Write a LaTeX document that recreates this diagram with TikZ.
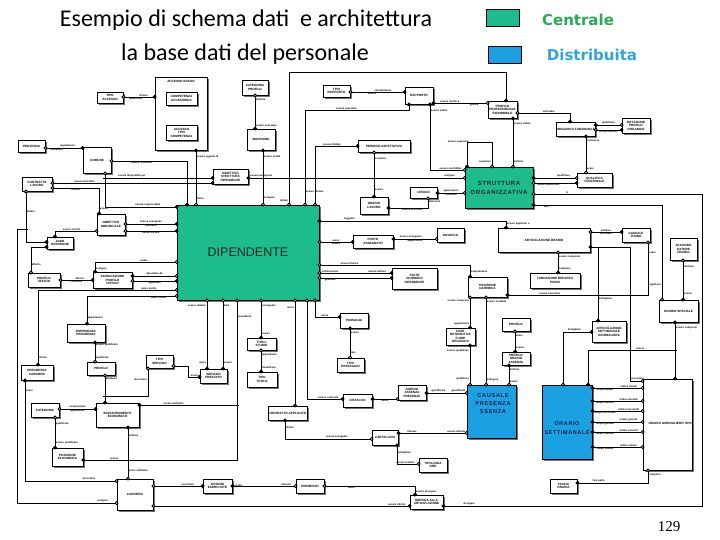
\documentclass[tikz,border=0pt]{standalone}
\usepackage{fontspec}
\setmainfont{Carlito}
\setsansfont{Liberation Sans}
\newfontfamily\verd{DejaVu Sans}
\newfontfamily\tms{Liberation Serif}
\newfontfamily\spaced[LetterSpace=12]{Liberation Sans}
\usetikzlibrary{arrows.meta,shadows}
\definecolor{cgreen}{RGB}{29,188,140}
\definecolor{cblue}{RGB}{27,161,226}
\definecolor{tgreen}{RGB}{40,170,85}
\definecolor{tblue}{RGB}{45,165,225}
\definecolor{navy}{RGB}{20,30,80}
\newcommand{\bfnt}{\sffamily\bfseries\fontsize{3.1}{3.5}\selectfont}
\newcommand{\lfnt}{\sffamily\bfseries\fontsize{2.6}{2.8}\selectfont}
\newcommand{\Ebox}[7][]{\node[ebox,minimum width={(#5-#3)*1pt},minimum height={(#6-#4)*1pt},#1] (#2) at ({(#3+#5)/2},{(#4+#6)/2}) {#7};}
\tikzset{
  Fi/.tip={Circle[length=3.8pt]},
  Oi/.tip={Circle[fill=white,length=3.8pt]},
  ebox/.style={draw, fill=white, line width=0.85pt, inner sep=0.3pt, align=center, font=\bfnt,
    drop shadow={shadow xshift=1.6pt, shadow yshift=-1.6pt, fill=black!55, opacity=1}},
  con/.style={draw, line width=0.85pt, shorten >=-1.9pt, shorten <=-1.9pt},
  lab/.style={font=\lfnt, inner sep=0.5pt},
}
\begin{document}
\begin{tikzpicture}[x=1pt,y=-1pt]
\useasboundingbox (0,0) rectangle (720,540);
% header
\node[font=\fontsize{24}{28}\selectfont] (t1) at (246,20) {Esempio di schema dati\ \ e architettura};
\node[font=\fontsize{24}{28}\selectfont] (t2) at (245,54) {la base dati del personale};
\node[draw,fill=cgreen,minimum width=33pt,minimum height=17pt,line width=0.8pt] (lg) at (502.5,17.5) {};
\node[font=\verd\bfseries\fontsize{15}{17}\selectfont, text=tgreen] (lgt) at (578,19.5) {Centrale};
\node[draw,fill=cblue,minimum width=33pt,minimum height=17pt,line width=0.8pt] (lb) at (504.5,54.5) {};
\node[font=\verd\bfseries\fontsize{15}{17}\selectfont, text=tblue] (lbt) at (592,55) {Distribuita};

% entities
\Ebox{tipoacc}{97}{92}{123}{103}{TIPO\\ACCESSO}
\Ebox{accbig}{155}{77}{207}{150}{}
\node[font=\bfnt] (accl) at (181,81) {ACCESSO SPAZIO};
\Ebox{compacc}{166}{92}{197}{105}{COMPETENZA\\ACCESSORIA}
\Ebox{acctipo}{166}{125}{197}{140}{ACCESSO\\TIPO\\COMPETENZA}
\Ebox{catprof}{242}{80}{268}{95}{CATEGORIA\\PROFILO}
\Ebox{mansione}{247}{129}{275}{150}{MANSIONE}
\Ebox{tiporap}{323}{85}{350}{97}{TIPO\\RAPPORTO}
\Ebox{rapporto}{405}{87}{433}{104}{RAPPORTO}
\Ebox{profprof}{488}{101}{517}{118}{PROFILO\\PROFESSIONALE\\DISPONIBILE}
\Ebox{organico}{557}{122}{595}{136}{ORGANICO FUNZIONALE}
\Ebox{dotazione}{622}{118}{650}{133}{DOTAZIONE\\PROFILO\\ORGANICO}
\Ebox{qualfun}{577}{173}{612}{187}{QUALIFICA\\FUNZIONALE}
\Ebox{provincia}{18}{140}{45}{152}{PROVINCIA}
\Ebox{comune}{83}{147}{111}{173}{COMUNE}
\Ebox{contratto}{22}{177}{52}{191}{CONTRATTO\\LAVORO}
\Ebox{obstr}{213}{169}{248}{184}{OBIETTIVO\\STRUTTURA\\DIPENDENTE}
\Ebox{periodo}{358}{140}{410}{152}{PERIODO ASPETTATIVA}
\Ebox{orariolav}{360}{197}{388}{214}{ORARIO\\LAVORO}
\Ebox{ufficio}{410}{187}{437}{198}{UFFICIO}
\Ebox[fill=cgreen,font=\spaced\bfseries\fontsize{6}{9}\selectfont,text=black!85]{struttura}{465}{167}{533}{208}{STRUTTURA\\ORGANIZZATIVA}
\Ebox{obind}{97}{214}{125}{235}{OBIETTIVO\\INDIVIDUALE}
\Ebox{albo}{47}{237}{73}{249}{ALBO\\ISCRIZIONE}
\Ebox[fill=cgreen,font=\sffamily\fontsize{12.5}{14}\selectfont,text=black!85]{dip}{177}{205}{319}{300}{DIPENDENTE}
\Ebox{profuff}{28}{273}{60}{287}{PROFILO\\UFFICIO}
\Ebox{assoc}{93}{272}{132}{288}{ASSOCIAZIONE\\PROFILO\\UFFICIO}
\Ebox{posto}{353}{235}{393}{248}{POSTO\\ASSEGNATO}
\Ebox{incarico}{437}{228}{464}{242}{INCARICO}
\Ebox{artorario}{498}{228}{590}{252}{ARTICOLAZIONE ORARIO}
\Ebox{caustur}{622}{228}{650}{242}{CAUSALE\\TURNO}
\Ebox{accordo}{670}{238}{697}{260}{ACCORDO\\DATORE\\ORARIO}
\Ebox{statogiu}{392}{268}{437}{289}{STATO\\GIURIDICO\\DIPENDENTE}
\Ebox{posgiu}{468}{277}{507}{297}{POSIZIONE\\GIURIDICA}
\Ebox{turnaz}{530}{273}{580}{288}{TURNAZIONE REPARTO\\PIANO}
\Ebox{orspec}{659}{300}{698}{322}{ORARIO SPECIALE}
\Ebox{artset}{592}{321}{626}{342}{ARTICOLAZIONE\\SETTIMANALE\\GIORNALIERA}
\Ebox{espreg}{67}{324}{105}{342}{ESPERIENZA\\PREGRESSA}
\Ebox{passaggi}{340}{313}{368}{328}{PASSAGGI}
\Ebox{titoli}{247}{338}{276}{350}{TITOLI\\STUDIO}
\Ebox{fase}{446}{328}{475}{345}{FASE\\RETRIBUTIVA\\FUORI\\ORGANICO}
\Ebox{profilo2}{502}{318}{530}{331}{PROFILO}
\Ebox{tiposerv}{146}{355}{173}{368}{TIPO\\SERVIZIO}
\Ebox{tipopass}{337}{358}{364}{372}{TIPO\\PASSAGGIO}
\Ebox{profassenza}{502}{352}{530}{365}{PROFILO\\ORARIO\\ASSENZA}
\Ebox{pregcarr}{21}{365}{53}{380}{PREGRESSA\\CARRIERA}
\Ebox{profilo}{87}{362}{115}{375}{PROFILO}
\Ebox{servprest}{200}{369}{227}{383}{SERVIZIO\\PRESTATO}
\Ebox{tipotit}{247}{372}{277}{387}{TIPO\\TITOLO}
\Ebox[fill=cblue]{causale}{467}{385}{516}{438}{}
\node[font=\spaced\bfseries\fontsize{5.6}{8}\selectfont,text=navy,align=center] (caust) at (493,404) {CAUSALE\\PRESENZA\\SSENZA};
\Ebox[fill=cblue]{orset}{542}{385}{592}{459}{}
\node[font=\spaced\bfseries\fontsize{5.4}{9}\selectfont,text=navy,align=center] (orsett) at (567,428) {ORARIO\\SETTIMANALE};
\Ebox[drop shadow={opacity=0}]{orgiorn}{643}{379}{692}{470}{}
\node[font=\bfnt,anchor=west] (orgt) at (645,423) {ORARIO GIORNALIERO TIPO};
\Ebox{giorno}{398}{385}{426}{400}{GIORNO\\ASSENZA\\PRESENZA}
\Ebox{distacco}{343}{394}{372}{407}{DISTACCO}
\Ebox{categoria}{31}{403}{59}{417}{CATEGORIA}
\Ebox{inquadr}{96}{403}{139}{427}{INQUADRAMENTO\\ECONOMICO}
\Ebox{contrapp}{268}{406}{307}{420}{CONTRATTO APPLICATO}
\Ebox{cartellino}{372}{430}{398}{445}{CARTELLINO}
\Ebox{posecon}{52}{448}{83}{466}{POSIZIONE\\ECONOMICA}
\Ebox{tipologia}{419}{458}{447}{472}{TIPOLOGIA\\ORE}
\Ebox{carriera}{117}{479}{153}{510}{CARRIERA}
\Ebox{opzioni}{203}{479}{232}{493}{OPZIONI\\ESERCITATE}
\Ebox{permesso}{296}{479}{324}{493}{PERMESSO}
\Ebox{deroga}{410}{495}{443}{509}{DEROGA ALLA\\ARTICOLAZIONE}
\Ebox{fascia}{550}{479}{577}{493}{FASCIA\\ORARIA}
\node[font=\tms\fontsize{15}{17}\selectfont] (pg) at (669,527) {129};

% junctions
\coordinate (j1) at (105,178);
\coordinate (j2) at (26,229);
\coordinate (j3) at (105,396);
\coordinate (j4) at (237,405);
\coordinate (j5) at (598,247);
\coordinate (j6) at (675,350);

% connectors
\draw[con,Oi-Fi] (tipoacc.east|-0,97) -- node[lab,above,pos=0.65]{dotato} node[lab,below,pos=0.4]{qualificare} (accbig.west|-0,97);
\draw[con,Oi-Fi] (provincia.east|-0,148) -- node[lab,above,pos=0.6]{appartenere} node[lab,below,pos=0.3]{contenere} (comune.west|-0,148);
\draw[con,Oi-Fi] (comune.east|-0,161) -| node[lab,below,pos=0.2]{essere residenza} (dip.north-|187,0);
\draw[con,Oi-Fi] (comune.south-|105,0) |- node[lab,above,pos=0.8]{essere responsabile} (dip.west|-0,207);
\draw[con,-Fi] (j1) -- node[lab,above,pos=0.25]{essere disponibile per} (obstr.west|-0,178);
\draw[con,Oi-Fi] (contratto.east|-0,183) -- node[lab,above,pos=0.2]{essere vincolato} (obstr.west|-0,183);
\draw[con,Oi-Fi] (contratto.east|-0,188) -| node[lab,below,pos=0.25]{riferire} node[lab,right,pos=0.9]{essere} (obind.north-|99,0);
\draw[con,Oi-Fi] (contratto.south-|26,0) |- node[lab,right,pos=0.2]{dotare} (albo.west|-0,242);
\draw[con,-Oi] (j2) -- (17,229) |- node[lab,above,pos=0.93]{svolgere} (carriera.west|-0,503);
\draw[con,Fi-Oi] (accbig.south-|196,0) -- node[lab,right,pos=0.12]{essere oggetto di} node[lab,right,pos=0.88]{fruire} (dip.north-|196,0);
\draw[con,Oi-Fi] (catprof.south) -- node[lab,right,pos=0.12]{definire} node[lab,right,pos=0.9]{essere associata} (mansione.north-|255,0);
\draw[con,Fi-Oi] (mansione.south-|263,0) -- node[lab,right,pos=0.12]{essere svolta} node[lab,right,pos=0.88]{svolgere} (dip.north-|263,0);
\draw[con,Fi-Oi] (obstr.east|-0,178) -- node[lab,above,pos=0.06]{essere assegnato} node[lab,above,pos=0.93]{svolgere} (struttura.west|-0,178);
\draw[con,Oi-Fi] (tiporap.east|-0,92) -- node[lab,above,pos=0.6]{caratterizzare} node[lab,below,pos=0.4]{essere} (rapporto.west|-0,92);
\draw[con,Fi-Oi] (rapporto.south-|409,0) -- (409,110) -| node[lab,above,pos=0.3]{essere associato} node[lab,right,pos=0.93]{essere titolare} (dip.north-|305,0);
\draw[con,Oi-Fi] (dip.north-|289,0) -- node[lab,left,pos=0.03]{dotato} (289,72) -| (profprof.north-|506,0);
\draw[con,Fi-Oi] (rapporto.south-|430,0) |- node[lab,right,pos=0.05]{essere valido} node[lab,above,pos=0.8]{essere controllato} (struttura.west|-0,170);
\draw[con,Fi-Oi] (rapporto.east|-0,103) -- node[lab,above,pos=0.3]{essere rivolto a} node[lab,below,pos=0.75]{gestire} (profprof.west|-0,103);
\draw[con,Oi-Fi] (profprof.east|-0,113) -| node[lab,above,pos=0.3]{articolare} (organico.north-|570,0);
\draw[con,Fi-Oi] (organico.east|-0,125) -- node[lab,above,pos=0.5]{qualificare} (dotazione.west|-0,125);
\draw[con,Oi-Fi] (organico.east|-0,130) -- node[lab,below,pos=0.5]{essere definito} (dotazione.west|-0,130);
\draw[con,Fi-Oi] (organico.south-|586,0) -- node[lab,right,pos=0.12]{contenere} node[lab,right,pos=0.9]{avere} (qualfun.north-|586,0);
\draw[con,Fi-Oi] (struttura.east|-0,178) -- node[lab,above,pos=0.7]{qualificare} (qualfun.west|-0,178);
\draw[con,Oi-Fi] (struttura.east|-0,183) -- node[lab,below,pos=0.35]{essere qualificato} (qualfun.west|-0,183);
\draw[con,Fi-Oi] (struttura.north-|467,0) -- (467,142) -| node[lab,left,pos=0.05]{essere superiore} node[lab,left,pos=0.9]{superiore} (struttura.north-|492,0);
\draw[con,Fi-Oi] (profprof.south-|513,0) -- node[lab,right,pos=0.1]{essere valido} node[lab,right,pos=0.9]{definire} (struttura.north-|513,0);
\draw[con,Oi-Fi] (dip.north-|315,0) |- node[lab,above,pos=0.7]{essere titolare} (periodo.west|-0,146);
\draw[con,Oi-Fi] (periodo.south-|374,0) -- node[lab,right,pos=0.15]{correlare} node[lab,right,pos=0.85]{essere} (orariolav.north-|374,0);
\draw[con,Fi-Oi] (orariolav.east|-0,208) -| node[lab,below,pos=0.3]{essere dislocato} node[lab,right,pos=0.85]{dislocare} (ufficio.south-|428,0);
\draw[con,Fi-Oi] (ufficio.east|-0,193) -- node[lab,above,pos=0.5]{appartenere} node[lab,below,pos=0.5]{costituire} (struttura.west|-0,193);
\draw[con,Fi-Fi] (dip.east|-0,221) -| node[lab,above,pos=0.08]{soggetto} node[lab,right,pos=0.7]{essere applicato a} (artorario.north-|506,0);
\draw[con,Oi-Fi] (dip.east|-0,242) -- node[lab,above,pos=0.5]{avere} node[lab,below,pos=0.5]{essere} (posto.west|-0,242);
\draw[con,Fi-Oi] (posto.east|-0,239) -- node[lab,above,pos=0.4]{essere assegnato} node[lab,below,pos=0.5]{appartenere} (incarico.west|-0,239);
\draw[con,Oi-Fi] (dip.east|-0,265) -| node[lab,above,pos=0.1]{essere titolare} node[lab,right,pos=0.8]{comprendere} (posgiu.north-|470,0);
\draw[con,Oi-Fi] (dip.east|-0,273) -- node[lab,above,pos=0.15]{sottoscrivere} node[lab,above,pos=0.8]{essere titolare} (statogiu.west|-0,273);
\draw[con,Oi-Fi] (dip.east|-0,278) -- node[lab,below,pos=0.15]{generare} (statogiu.west|-0,278);
\draw[con,Oi-Fi] (artorario.east|-0,232) -- node[lab,above,pos=0.5]{adottare} node[lab,below,pos=0.5]{articolare} (caustur.west|-0,232);
\draw[con,Oi-Fi] (artorario.south-|558,0) -- node[lab,right,pos=0.2]{essere composta} node[lab,right,pos=0.85]{comporre} (turnaz.north-|558,0);
\draw[con,Fi-Fi] (artorario.east|-0,247) -| node[lab,right,pos=0.85]{dettagliare} (artset.north-|598,0);
\draw[con,-Oi] (j5) -- (630,247) |- node[lab,above,pos=0.8]{prevedere} (orgiorn.west|-0,381);
\draw[con,Fi-Oi] (posgiu.east|-0,295) -| node[lab,above,pos=0.15]{essere associata} node[lab,right,pos=0.9]{usare} (caustur.south-|648,0);
\draw[con,Oi-Fi] (struttura.east|-0,194) -- node[lab,above,pos=0.2]{ir} (702,194) |- node[lab,above,pos=0.95]{derogare} (deroga.east|-0,506);
\draw[con,Fi-Oi] (struttura.east|-0,205) -| node[lab,below,pos=0.05]{tipo} node[lab,left,pos=0.92]{applicare} (orspec.north-|662,0);
\draw[con,Oi-Fi] (accordo.south-|683,0) -- node[lab,right,pos=0.15]{derivare} node[lab,right,pos=0.85]{essere} (orspec.north-|683,0);
\draw[con,Fi-Fi] (orspec.south-|675,0) -- node[lab,right,pos=0.1]{essere composto} (orgiorn.north-|675,0);
\draw[con,-Fi] (j6) -| node[lab,above,pos=0.2]{essere} (orset.north-|588,0);
\draw[con,Fi-Oi] (artset.west|-0,332) -| node[lab,above,pos=0.3]{dettagliare} (orset.north-|563,0);
\foreach \yy/\la/\lb in {388/ordine lunedì/tempo lunedì, 401/ordine martedì/tempo martedì, 411/ordine mercoledì/tempo mercoledì, 422/ordine giovedì/tempo giovedì, 432/ordine venerdì/tempo venerdì, 447/ordine sabato/tempo sabato}
  \draw[con,Fi-Oi] (orset.east|-0,\yy) -- node[lab,above,pos=0.72]{\la} node[lab,below,pos=0.25]{\lb} (orgiorn.west|-0,\yy);
\draw[con,Oi-Fi] (orgiorn.south-|648,0) |- node[lab,right,pos=0.2]{comporre} node[lab,above,pos=0.85]{fare parte} (fascia.east|-0,483);
\draw[con,Oi-Fi] (dip.south-|207,0) -- node[lab,left,pos=0.07]{essere relativo} node[lab,left,pos=0.92]{avere} (servprest.north-|207,0);
\draw[con,Oi-Fi] (dip.south-|223,0) -- node[lab,right,pos=0.07]{dare} node[lab,right,pos=0.92]{essere} (servprest.north-|223,0);
\draw[con,Oi-Fi] (dip.south-|237,0) |- node[lab,right,pos=0.05]{inquadrare} node[lab,above,pos=0.9]{essere} (posecon.east|-0,460);
\draw[con,Oi-Fi] (dip.south-|261,0) -- node[lab,right,pos=0.15]{conseguire} node[lab,right,pos=0.9]{essere} (titoli.north-|261,0);
\draw[con,Oi-Fi] (titoli.south-|261,0) -- node[lab,right,pos=0.2]{appartenere} node[lab,right,pos=0.8]{classificare} (tipotit.north-|261,0);
\draw[con,Oi-Fi] (dip.south-|295,0) -- node[lab,left,pos=0.07]{avere} (contrapp.north-|295,0);
\draw[con,Oi-Fi] (dip.south-|307,0) |- node[lab,above,pos=0.8]{essere collocato} (distacco.west|-0,399);
\draw[con,Oi-Fi] (dip.south-|315,0) |- node[lab,above,pos=0.7]{avere} (passaggi.west|-0,317);
\draw[con,Fi-Oi] (passaggi.south-|350,0) -- node[lab,right,pos=0.15]{essere} node[lab,right,pos=0.85]{tipo} (tipopass.north-|350,0);
\draw[con,Oi-Fi] (dip.west|-0,262) -| node[lab,above,pos=0.2]{svolto} node[lab,right,pos=0.85]{svolgere} (assoc.north-|95,0);
\draw[con,Fi-Oi] (assoc.east|-0,276) -- node[lab,above,pos=0.5]{dipendere da} (dip.west|-0,276);
\draw[con,Oi-Fi] (assoc.east|-0,281) -- node[lab,below,pos=0.5]{riguardare} (dip.west|-0,281);
\draw[con,Oi-Fi] (profuff.east|-0,280) -- node[lab,above,pos=0.6]{afferire} node[lab,below,pos=0.5]{costituire} (assoc.west|-0,280);
\draw[con,Fi-Oi] (albo.west|-0,247) -| node[lab,right,pos=0.85]{afferire} (profuff.north-|31,0);
\draw[con,Oi-Fi] (dip.west|-0,290) -| node[lab,above,pos=0.1]{avere svolto} node[lab,right,pos=0.95]{riferire} (pregcarr.north-|38,0);
\draw[con,Oi-Fi] (dip.west|-0,296) -| node[lab,below,pos=0.1]{avere svolto} node[lab,right,pos=0.9]{appartenere} (espreg.north-|87,0);
\draw[con,Fi-Oi] (espreg.south-|95,0) -- node[lab,right,pos=0.15]{essere qualificato} node[lab,right,pos=0.8]{qualificare} (profilo.north-|95,0);
\draw[con,Oi-Fi] (profilo.south-|105,0) -- node[lab,right,pos=0.12]{attribuire} (inquadr.north-|105,0);
\draw[con,Oi-] (tiposerv.south-|148,0) |- node[lab,left,pos=0.2]{descrivere} (j3);
\draw[con,Oi-Fi] (tiposerv.east|-0,366) -- (188,366) |- node[lab,above,pos=0.8]{essere} (servprest.west|-0,377);
\draw[con,Fi-Oi] (pregcarr.south-|25,0) |- node[lab,right,pos=0.05]{avere} node[lab,above,pos=0.85]{precedere} (carriera.west|-0,481);
\draw[con,Oi-Fi] (categoria.east|-0,409) -- node[lab,above,pos=0.5]{comprendere} node[lab,below,pos=0.5]{appartenere} (inquadr.west|-0,409);
\draw[con,Oi-Fi] (categoria.south-|55,0) -- node[lab,right,pos=0.2]{qualificare} node[lab,right,pos=0.85]{essere qualificato} (posecon.north-|55,0);
\draw[con,Fi-Oi] (inquadr.south-|128,0) -- node[lab,right,pos=0.15]{definire} node[lab,right,pos=0.85]{avere attribuito} (carriera.north-|128,0);
\draw[con,Fi-] (inquadr.east|-0,405) -- node[lab,above,pos=0.35]{essere attribuito} (j4);
\draw[con,Oi-Fi] (carriera.east|-0,486) -- node[lab,above,pos=0.7]{esercitare} (opzioni.west|-0,486);
\draw[con,Fi-Oi] (opzioni.east|-0,486) -- node[lab,right,pos=0.02]{scelta} node[lab,above,pos=0.85]{ricevuto} (permesso.west|-0,486);
\draw[con,Oi-Fi] (permesso.east|-0,486) -| node[lab,below,pos=0.15]{avere} node[lab,right,pos=0.85]{essere derogata} (deroga.north-|415,0);
\draw[con,Oi-Fi] (carriera.east|-0,506) -- node[lab,above,pos=0.95]{essere riferito} (deroga.west|-0,506);
\draw[con,Fi-Oi] (contrapp.south-|285,0) |- node[lab,right,pos=0.2]{riferire} node[lab,above,pos=0.8]{essere assegnato} (cartellino.west|-0,439);
\draw[con,Fi-Oi] (cartellino.east|-0,433) -- node[lab,above,pos=0.2]{rilevare} node[lab,above,pos=0.85]{essere rilevato} (causale.west|-0,433);
\draw[con,Fi-Oi] (cartellino.south-|397,0) |- node[lab,right,pos=0.2]{dettagliare} node[lab,above,pos=0.7]{essere relativo} (tipologia.west|-0,464);
\draw[con,Fi-Oi] (distacco.east|-0,399) -- node[lab,below,pos=0.5]{avere} (giorno.west|-0,399);
\draw[con,Fi-Oi] (giorno.east|-0,393) -- node[lab,above,pos=0.3]{giustificare} node[lab,above,pos=0.8]{giustificato} (causale.west|-0,393);
\draw[con,Oi-Fi] (posgiu.south-|470,0) -- node[lab,left,pos=0.12]{essere compreso} node[lab,left,pos=0.88]{appartenere} (fase.north-|470,0);
\draw[con,Fi-Oi] (fase.south-|470,0) -- node[lab,left,pos=0.15]{essere qualificato} node[lab,left,pos=0.85]{qualificare} (causale.north-|470,0);
\draw[con,Oi-Oi] (posgiu.south-|486,0) -- node[lab,right,pos=0.05]{essere variabile} node[lab,right,pos=0.95]{collegare} (causale.north-|486,0);
\draw[con,Oi-Fi] (profilo2.south-|515,0) -- node[lab,right,pos=0.2]{avere} node[lab,right,pos=0.8]{essere} (profassenza.north-|515,0);
\draw[con,Fi-Oi] (profassenza.south-|509,0) -- node[lab,right,pos=0.2]{definire} node[lab,right,pos=0.85]{valere} (causale.north-|509,0);
\draw[con,Oi-Fi] (obind.east|-0,224) -- node[lab,above,pos=0.5]{essere assegnato} node[lab,below,pos=0.5]{attribuire} (dip.west|-0,224);
\draw[con,Oi-Fi] (obind.east|-0,231) -- node[lab,below,pos=0.5]{essere diretto} (dip.west|-0,231);
\draw[con,Oi-Fi] (obind.west|-0,231) -| node[lab,above,pos=0.3]{essere iscritto} (albo.north-|55,0);
\end{tikzpicture}
\end{document}
